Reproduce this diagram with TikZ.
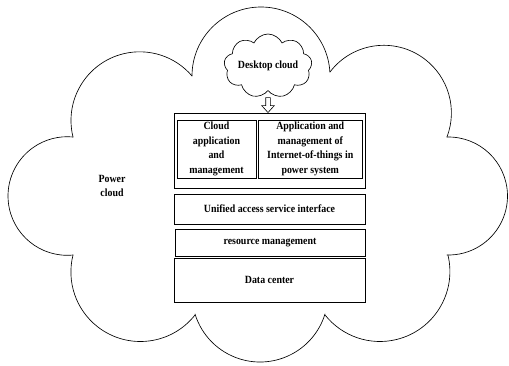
\documentclass[tikz,border=0pt]{standalone}
\usepackage{fontspec}
\setmainfont{Liberation Serif}[FakeStretch=0.9]
\usetikzlibrary{shapes.symbols}
\begin{document}
\begin{tikzpicture}[x=1pt,y=-1pt,
  every node/.style={font=\bfseries\fontsize{11}{14.5}\selectfont},
  outline/.style={draw=black, line width=0.65pt, line cap=round},
  layerbox/.style={draw=black, line width=0.9pt, rectangle, inner sep=0pt, align=center},
  puffy/.style={cloud, draw=black, line width=0.65pt, cloud puffs=9, cloud puff arc=130,
    cloud ignores aspect, minimum width=88pt, minimum height=64pt, inner sep=0pt},
  hollowarrow/.style={draw=black, line width=0.6pt, line join=miter}]
\useasboundingbox (0,0) rectangle (509,365);

% outer power cloud: eight lobes, each a circular arc (centre x / centre y / radius / from / to)
\foreach \cx/\cy/\r/\a/\b in {
    261/76/69/180/356.7,
    383.8/112.9/67.6/217.2/380.9,
    448.5/196/59/268.5/451.5,
    379.9/271.5/70/-13.6/141.6,
    260/294/68/17.1/162.9,
    140.4/272/69.5/38.2/194.2,
    67.3/196/59.3/84.5/275.5,
    139.7/120.5/68.7/166.1/319.6}
  \draw[outline] (\cx,\cy) ++(\a:\r) arc[start angle=\a, end angle=\b, radius=\r];

\node[align=center] (pc) at (112,186) {Power\\cloud};

% desktop cloud
\node[puffy] (dc) at (268,66) {Desktop cloud};

% layer stack
\node[layerbox, minimum width=191pt, minimum height=75pt] (apps) at (269.5,150.5) {};
\node[layerbox, minimum width=79pt, minimum height=58pt] (capp) at (216.5,149)
  {Cloud\\application\\and\\management};
\node[layerbox, minimum width=103.5pt, minimum height=58pt] (iot) at (310.25,149)
  {Application and\\management of\\Internet-of-things in\\power system};
\node[layerbox, minimum width=191pt, minimum height=30pt] (ua) at (269.5,209)
  {Unified access service interface};
\node[layerbox, minimum width=190pt, minimum height=27pt] (rm) at (270,242.5)
  {resource management};
\node[layerbox, minimum width=191pt, minimum height=44pt] (data) at (269.5,280)
  {Data center};

% hollow arrow from the desktop cloud into the application layer
\coordinate (tipc) at (apps.north -| dc.south);
\draw[hollowarrow] (tipc) -- ++(-6.3,-7) -- ++(4,0) -- ++(0,-8) -- ++(4.6,0)
  -- ++(0,8) -- ++(4,0) -- cycle;
\end{tikzpicture}
\end{document}
